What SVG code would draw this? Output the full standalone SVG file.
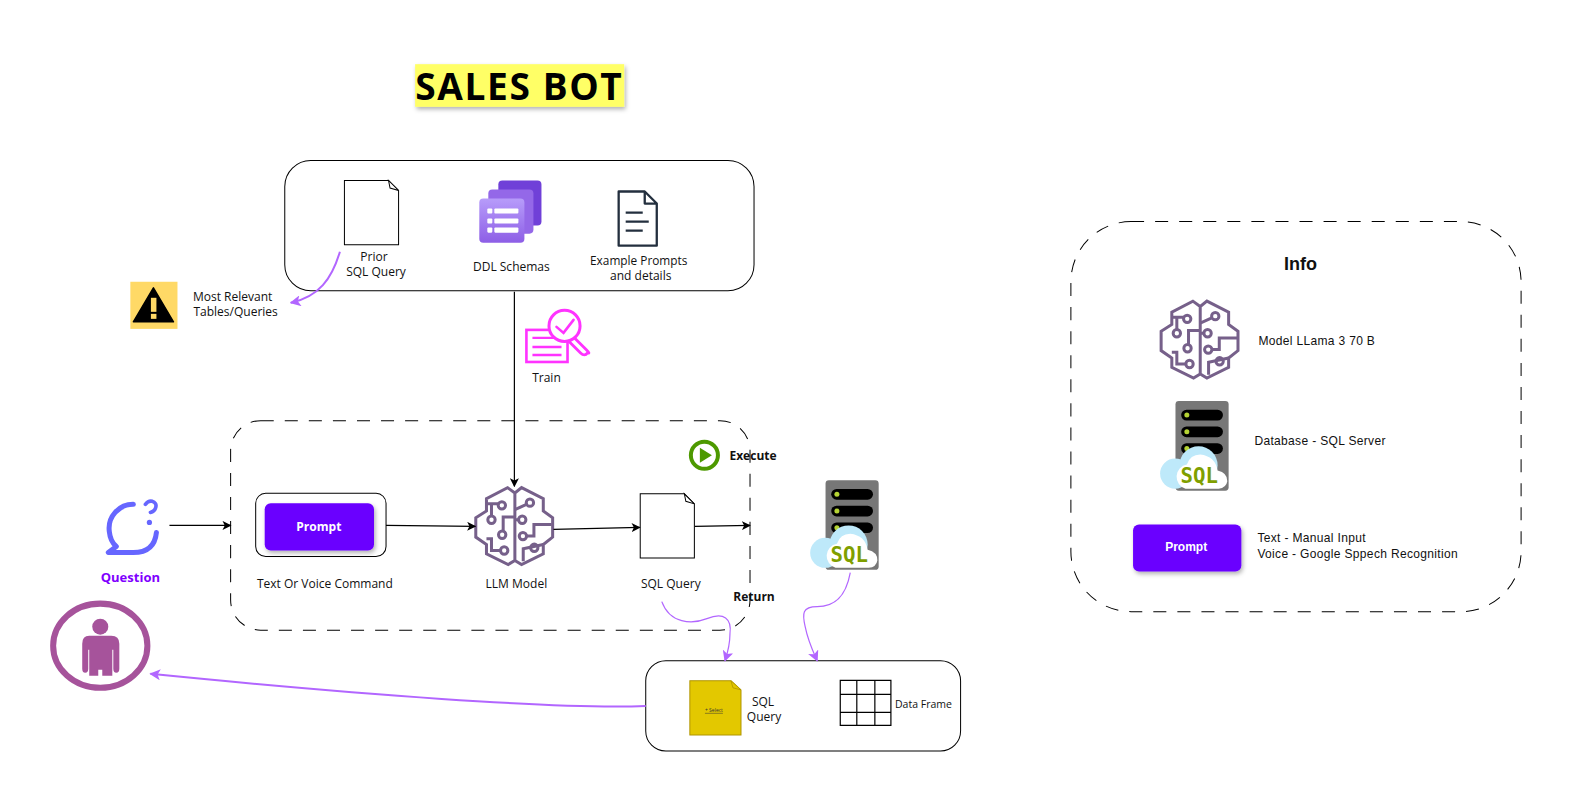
<svg xmlns="http://www.w3.org/2000/svg" xmlns:xlink="http://www.w3.org/1999/xlink" width="1572" height="801" viewBox="0 0 1572 801">
<style>
.h{font-family:"Open Sans","Noto Sans",sans-serif;font-size:12px;fill:#111;text-anchor:middle}
.b{font-weight:700}
.a{font-family:"Liberation Sans",Arial,sans-serif;font-size:12px;fill:#111;letter-spacing:.33px}
.box{fill:none;stroke:#000;stroke-width:1}
.dash{fill:none;stroke:#000;stroke-width:1;stroke-dasharray:13 11}
.blk{fill:none;stroke:#000;stroke-width:1.2;marker-end:url(#ab)}
.pur{fill:none;stroke:#B266FF;stroke-width:1.2;marker-end:url(#ap)}
.doc{fill:#fff;stroke:#000;stroke-width:1}
.bs{fill:none;stroke:#76608A;stroke-width:9;stroke-linejoin:miter}
.pmt{fill:#6a00ff;filter:url(#sh)}
</style>
<defs>
<filter id="sh" x="-20%" y="-20%" width="150%" height="150%"><feDropShadow dx="1.5" dy="2.5" stdDeviation="2" flood-color="#000" flood-opacity=".3"/></filter>
<marker id="ab" viewBox="0 0 10 10" refX="9" refY="5" markerWidth="9" markerHeight="9" markerUnits="userSpaceOnUse" orient="auto"><path d="M0 0L10 5L0 10L2.5 5Z" fill="#000"/></marker>
<marker id="ap" viewBox="0 0 10 10" refX="9" refY="5" markerWidth="11" markerHeight="11" markerUnits="userSpaceOnUse" orient="auto"><path d="M0 0L10 5L0 10L2.5 5Z" fill="#B266FF"/></marker>
<linearGradient id="g1" x1="0" y1="0" x2="0" y2="1"><stop offset="0" stop-color="#B79CFA"/><stop offset="1" stop-color="#8D5EE6"/></linearGradient>
<g id="brain" transform="scale(.3333)">
<path class="bs" d="M225 68L203 52L140 85V122L108 142V200L140 222V250L205 282L225 270L245 282L310 250V222L338 200V142L310 122V85L245 52L225 68V270"/>
<path class="bs" d="M140 100H175M155 100V137M225 140H190V182M140 205H155V240H182M225 118L258 103M225 148H236M260 197H282V162H335M310 222L250 235V272"/>
<circle class="bs" cx="186" cy="105" r="11"/><circle class="bs" cx="155" cy="148" r="11"/><circle class="bs" cx="187" cy="193" r="11"/><circle class="bs" cx="193" cy="240" r="11"/><circle class="bs" cx="270" cy="97" r="11"/><circle class="bs" cx="247" cy="148" r="11"/><circle class="bs" cx="249" cy="197" r="11"/><circle class="bs" cx="283" cy="232" r="11"/>
</g>
<g id="srv" transform="scale(.3333)">
<rect x="436" y="150" width="159" height="268" rx="10" fill="#777"/>
<rect x="453" y="176" width="125" height="32" rx="16" fill="#000"/><rect x="453" y="226" width="125" height="32" rx="16" fill="#000"/><rect x="453" y="276" width="125" height="32" rx="16" fill="#000"/>
<circle cx="470" cy="192" r="7.5" fill="#B5D334"/><circle cx="470" cy="242" r="7.5" fill="#B5D334"/><circle cx="470" cy="292" r="7.5" fill="#B5D334"/>
<circle cx="435" cy="367" r="45" fill="#BEE9FA"/><circle cx="505" cy="342" r="57" fill="#BEE9FA"/>
<path d="M466 412A37 37 0 0 1 470 340Q480 310 510 310Q555 315 562 358Q592 365 591 390Q588 410 565 412Z" fill="#fff"/>
<text x="507" y="395" font-family="'DejaVu Sans Mono',monospace" font-weight="700" font-size="62" fill="#7F9F00" text-anchor="middle">SQL</text>
</g>
</defs>
<g id="diagram" transform="scale(1.0027)">
<g id="title">
<rect x="414" y="64" width="208.500" height="42.500" fill="#FFFF66" filter="url(#sh)"/>
<text x="518" y="100" font-family="'Open Sans',sans-serif" font-weight="700" font-size="37" fill="#000" text-anchor="middle" letter-spacing="1.600">SALES BOT</text>
</g>

<g id="sources">
<rect class="box" x="284" y="160" width="468" height="130" rx="26"/>
</g>
<g id="prior-sql">
<path class="doc" d="M343.500 180H387.500L397.500 190V244H343.500Z"/><path class="doc" d="M387.500 180L397.500 190L389 187.500Z"/>
<text class="h" x="373" y="260">Prior</text><text class="h" x="375" y="275">SQL Query</text>
</g>
<g id="ddl">
<rect x="497" y="180" width="43" height="45" rx="4" fill="#7040D8"/>
<rect x="487" y="189" width="45" height="44" rx="4" fill="#9468E8"/>
<rect x="478" y="198" width="45" height="44" rx="4" fill="url(#g1)"/>
<g fill="#fff"><rect x="486" y="208" width="5" height="5" rx="1"/><rect x="486" y="218" width="5" height="5" rx="1"/><rect x="486" y="227" width="5" height="5" rx="1"/><rect x="493" y="208" width="24" height="5" rx="1"/><rect x="493" y="218" width="24" height="5" rx="1"/><rect x="493" y="227" width="24" height="5" rx="1"/></g>
<text class="h" x="510" y="270">DDL Schemas</text>
</g>
<g id="examples">
<path d="M617 191H643L655 203V245H617Z M643 191V203H655 M624 212H641 M624 221H647 M624 230H641" fill="none" stroke="#232F3E" stroke-width="2.300" stroke-linejoin="round"/>
<text class="h" x="637" y="264" style="font-size:11.800px">Example Prompts</text><text class="h" x="639" y="279">and details</text>
</g>
<g id="warning">
<rect x="130" y="281" width="47" height="47" fill="#FFD966"/>
<path d="M153 287L173 321H133Z" fill="#000" stroke="#000" stroke-width="1.500" stroke-linejoin="round"/>
<rect x="150.500" y="297" width="5.500" height="14" fill="#FFD966"/><rect x="150.500" y="313" width="5.500" height="5" fill="#FFD966"/>
<text class="h" x="232" y="300">Most Relevant</text><text class="h" x="235" y="315">Tables/Queries</text>
</g>
<g id="train">
<rect x="525" y="329" width="41" height="32" fill="#fff" stroke="#FF33FF" stroke-width="2.600"/>
<path d="M531 337H556M531 346H560M531 354H560" fill="none" stroke="#FF33FF" stroke-width="2.400"/>
<path d="M573 337L585 349Q589 353 586 352Q583 356 579 352L567 340" fill="#fff" stroke="#FF33FF" stroke-width="2.800" stroke-linejoin="round"/>
<circle cx="563" cy="325" r="15.500" fill="#fff" stroke="#FF33FF" stroke-width="3"/>
<path d="M555 326L562 332L572 319" fill="none" stroke="#FF33FF" stroke-width="2.600" stroke-linecap="round"/>
<text class="h" x="545" y="381">Train</text>
</g>
<g id="execution">
<rect class="dash" x="230" y="419.500" width="518" height="209" rx="30"/>
</g>
<g id="execute">
<circle cx="702.500" cy="454" r="13.500" fill="#fff" stroke="#4D9900" stroke-width="4"/>
<path d="M698 446.500V461.500L710 454Z" fill="#4D9900"/>
<text class="h b" x="751" y="459">Execute</text>
</g>
<g id="question">
<path d="M133 503A24 24 0 0 0 109 530Q110 540 116 545L108 551H133Q154 551 156 531" fill="none" stroke="#6666FF" stroke-width="5" stroke-linecap="round" stroke-linejoin="round"/>
<path d="M145 503Q148 499 152 500Q157 502 155 507Q154 510 150 511" fill="none" stroke="#6666FF" stroke-width="3.600" stroke-linecap="round"/>
<circle cx="149" cy="521" r="2.600" fill="#6666FF"/>
<text class="h b" x="130" y="580" style="fill:#7F00FF;font-size:13px">Question</text>
</g>
<g id="prompt">
<rect class="box" x="255" y="492" width="130" height="63" rx="10"/>
<rect class="pmt" x="264" y="502" width="109" height="47" rx="6"/>
<text class="h b" x="318" y="530" style="fill:#fff">Prompt</text>
<text class="h" x="324" y="586">Text Or Voice Command</text>
</g>
<g id="llm"><use xlink:href="#brain" href="#brain" transform="translate(438.500,469)"/><text class="h" x="515" y="586">LLM Model</text></g>
<g id="sql-query">
<path class="doc" d="M638.500 492.500H682.500L692.500 502.500V556.500H638.500Z"/><path class="doc" d="M682.500 492.500L692.500 502.500L684 500Z"/>
<text class="h" x="669" y="586">SQL Query</text>
</g>
<g id="server"><use xlink:href="#srv" href="#srv" transform="translate(678,429)"/></g>
<g id="return"><text class="h b" x="752" y="599">Return</text></g>
<g id="user">
<ellipse cx="100" cy="644" rx="47" ry="42" fill="#fff" stroke="#A6539B" stroke-width="6"/>
<circle cx="100" cy="625" r="8" fill="#A6539B"/>
<path d="M89 634H111Q119 634 119 642V667Q119 671 116 671Q113 671 113 667V648H112V674H102V668H98V674H89V648H88V667Q88 671 85 671Q82 671 82 667V642Q82 634 89 634Z" fill="#A6539B"/>
</g>
<g id="results">
<rect class="box" x="644" y="659" width="314" height="90" rx="20"/>
</g>
<g id="sql-result">
<path d="M688 679H729L739 688V733H688Z" fill="#E3C800" stroke="#B09500" stroke-width="1"/>
<path d="M729 679L739 688L731 686Z" fill="#E3C800" stroke="#B09500" stroke-width=".8"/>
<text x="712" y="710" font-family="'Open Sans',sans-serif" font-size="5" fill="#333" text-anchor="middle" text-decoration="underline">+ Select</text>
<text class="h" x="761" y="704">SQL</text><text class="h" x="762" y="719">Query</text>
</g>
<g id="data-frame">
<path d="M838 678.500H888.500V723.500H838ZM854.500 678.500V723.500M872.500 678.500V723.500M838 692.500H888.500M838 710.500H888.500" fill="#fff" stroke="#000" stroke-width="1.200"/>
<text class="h" x="921" y="706" style="font-size:10.500px">Data Frame</text>
</g>

<g id="info">
<rect class="dash" x="1068" y="221" width="449" height="389" rx="60"/>
<text x="1297" y="269" font-family="'Liberation Sans',Arial,sans-serif" font-size="18" font-weight="700" fill="#111" text-anchor="middle">Info</text>
</g>
<g id="info-model"><use xlink:href="#brain" href="#brain" transform="translate(1122,283)"/><text class="a" x="1255" y="344">Model LLama 3 70 B</text></g>
<g id="info-db"><use xlink:href="#srv" href="#srv" transform="translate(1027,350)"/><text class="a" x="1251" y="444">Database - SQL Server</text></g>
<g id="info-prompt">
<rect class="pmt" x="1130" y="523" width="108" height="47" rx="6"/>
<text x="1183" y="550" font-family="'Liberation Sans',Arial,sans-serif" font-size="12" font-weight="700" fill="#fff" text-anchor="middle">Prompt</text>
<text class="a" x="1254" y="541">Text - Manual Input</text><text class="a" x="1254" y="556">Voice - Google Sppech Recognition</text>
</g>

<g id="connectors">
<path class="blk" d="M169 524H230"/>
<path class="blk" d="M385 524L474 525"/>
<path class="blk" d="M552 528L638 526"/>
<path class="blk" d="M693 525L748 524"/>
<path class="blk" d="M513 291V485"/>
<path class="pur" style="stroke-width:2" d="M339 251C331 278 318 296 290 302"/>
<path class="pur" d="M848 571C843 598 830 605 815 605C800 605 800 612 803 625C806 640 811 650 815 659"/>
<path class="pur" d="M660 600C668 622 690 623 705 617C722 610 730 617 728 632C728 642 726 650 723 659"/>
<path class="pur" style="stroke-width:2" d="M644 704C560 708 350 692 150 672"/>
</g>
</g>
</svg>
